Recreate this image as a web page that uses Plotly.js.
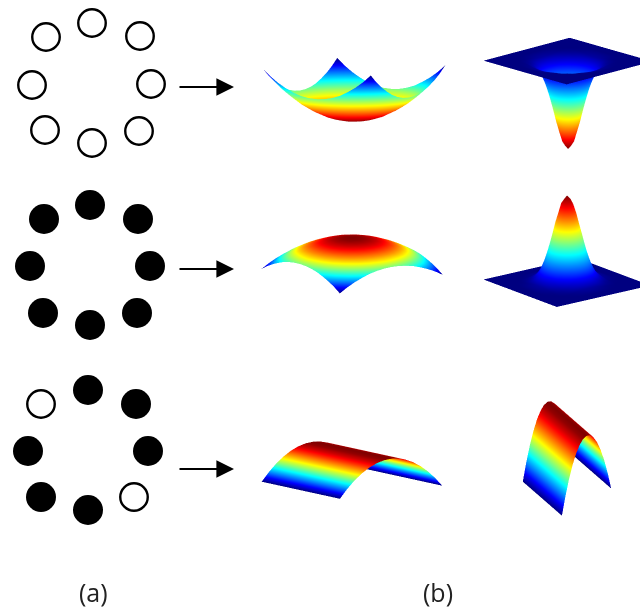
<!DOCTYPE html>
<html><head><meta charset="utf-8">
<script src="https://cdn.plot.ly/plotly-3.0.1.min.js"></script>
<style>html,body{margin:0;padding:0;background:#fff}#g{width:640px;height:609px}</style>
</head><body><div id="g"></div>
<script>
// ring node states
const ringX1=[92,140,151,139,92,45,32,46], ringY1=[23,36,84,131,143,130,85,37];
const ringX2=[90,138,150,137,90,43,30,44], ringY2=[205,219,266,313,325,313,266,219];
const ringXOpen3=[41,134], ringYOpen3=[404,497];
const ringXFill3=[88,136,148,88,41,28], ringYFill3=[390,404,451,510,497,451];
const arrowY=[87,269,469];
// surface values (one quadrant, the surfaces are symmetric)
const gridAxis=[0,0.143,0.286,0.429,0.571,0.714,0.857,1];
const bowlQuarter=[
[0,.02,.08,.18,.33,.51,.73,1],
[.02,.04,.10,.20,.35,.53,.76,1.02],
[.08,.10,.16,.27,.41,.59,.82,1.08],
[.18,.20,.27,.37,.51,.69,.92,1.18],
[.33,.35,.41,.51,.65,.84,1.06,1.33],
[.51,.53,.59,.69,.84,1.02,1.24,1.51],
[.73,.76,.82,.92,1.06,1.24,1.47,1.73],
[1,1.02,1.08,1.18,1.33,1.51,1.73,2]];
const bellAxis=[0,.07,.14,.21,.28,.35,.45,.6,.8,1];
const bellQuarter=[
[1,.955,.831,.659,.477,.314,.147,.033,.0024,.0001],
[.955,.912,.794,.629,.456,.300,.140,.032,.0023,.0001],
[.831,.794,.691,.548,.396,.261,.122,.027,.002,.0001],
[.659,.629,.548,.434,.314,.207,.097,.022,.0016,.0001],
[.477,.456,.396,.314,.228,.150,.070,.016,.0011,0],
[.314,.300,.261,.207,.150,.099,.046,.010,.0008,0],
[.147,.140,.122,.097,.070,.046,.022,.005,.0004,0],
[.033,.032,.027,.022,.016,.010,.005,.001,.0001,0],
[.0024,.0023,.002,.0016,.0011,.0008,.0004,.0001,0,0],
[.0001,.0001,.0001,.0001,0,0,0,0,0,0]];
const ridgeAxis=[-1,-.857,-.714,-.571,-.429,-.286,-.143,0,.143,.286,.429,.571,.714,.857,1];
const ridgeProfile=[0,.265,.49,.673,.816,.918,.98,1,.98,.918,.816,.673,.49,.265,0];
const labels=["(a)","(b)"];
const jetScale=[[0,'rgb(0,0,128)'],[.125,'rgb(0,0,255)'],[.375,'rgb(0,255,255)'],[.625,'rgb(255,255,0)'],[.875,'rgb(255,0,0)'],[1,'rgb(128,0,0)']];

const mirror=a=>a.slice(1).reverse().concat(a);
const mirror2=q=>mirror(q.map(mirror));
const signedAxis=g=>mirror(g).map((v,i)=>i<g.length-1?-v:v);
const neg=m=>m.map(r=>r.map(v=>-v));
const bowl=mirror2(bowlQuarter), bell=mirror2(bellQuarter);
const bowlX=signedAxis(gridAxis), bellX=signedAxis(bellAxis);

// panel: box cx,cy,size in px, azimuth, elevation, z aspect, horizontal aspect, horizontal shift in px
const panels=[
 {z:bowl,x:bowlX,y:bowlX,rev:true,cx:354,cy:87.5,size:200,az:34.6,el:5.5,za:.445,k:1.40,dx:0},
 {z:neg(bell),x:bellX,y:bellX,rev:true,cx:562,cy:105,size:156,az:46,el:16,za:.81,k:1.537,dx:6},
 {z:neg(bowl),x:bowlX,y:bowlX,rev:false,cx:352,cy:255,size:200,az:52.6,el:13.5,za:.29,k:1.30,dx:0},
 {z:bell,x:bellX,y:bellX,rev:false,cx:562,cy:239,size:156,az:52,el:17,za:.81,k:1.53,dx:5},
 {z:[ridgeProfile,ridgeProfile],x:ridgeAxis,y:[-1,1],rev:false,cx:352,cy:467,size:200,az:52.6,el:9.6,za:.28,k:1.29,dx:0},
 {z:[ridgeProfile,ridgeProfile],x:ridgeAxis,y:[-1,1],rev:false,cx:567,cy:452,size:140,az:51.5,el:43.8,za:1.55,k:.9,dx:0}
];
const W=640,H=609;
const traces=[], layout={width:W,height:H,margin:{l:0,r:0,t:0,b:0},paper_bgcolor:'#fff',plot_bgcolor:'#fff',showlegend:false,
 xaxis:{range:[0,W],visible:false,domain:[0,1],fixedrange:true},
 yaxis:{range:[H,0],visible:false,domain:[0,1],fixedrange:true},
 annotations:[],shapes:[]};
const open=(x,y)=>({type:'scatter',mode:'markers',x,y,hoverinfo:'skip',marker:{size:27.5,color:'#fff',line:{color:'#000',width:2.4}}});
const fill=(x,y)=>({type:'scatter',mode:'markers',x,y,hoverinfo:'skip',marker:{size:30,color:'#000',line:{width:0}}});
traces.push(open(ringX1,ringY1),fill(ringX2,ringY2),open(ringXOpen3,ringYOpen3),fill(ringXFill3,ringYFill3));
arrowY.forEach(y=>layout.annotations.push({x:234,y,ax:178,ay:y,xref:'x',yref:'y',axref:'x',ayref:'y',text:'',showarrow:true,arrowhead:2,arrowsize:1.6,arrowwidth:2.2,arrowcolor:'#000'}));
[[93,592,labels[0]],[438,592,labels[1]]].forEach(t=>layout.annotations.push({x:t[0],y:t[1],xref:'x',yref:'y',text:t[2],showarrow:false,font:{family:'Open Sans',size:25,color:'#222'}}));
const hid={visible:false,showgrid:false,zeroline:false,showline:false,showticklabels:false,showbackground:false,showspikes:false,title:{text:''}};
panels.forEach((p,i)=>{
 const name='scene'+(i?i+1:'');
 const a=p.az*Math.PI/180,e=p.el*Math.PI/180,r=2;
 const shift=p.dx/(0.49*p.size);
 const c={x:shift*Math.sin(a),y:-shift*Math.cos(a),z:0};
 layout[name]={domain:{x:[(p.cx-p.size/2)/W,(p.cx+p.size/2)/W],y:[1-(p.cy+p.size/2)/H,1-(p.cy-p.size/2)/H]},
  xaxis:{...hid,range:[-1,1]},yaxis:{...hid,range:[-1,1]},zaxis:{...hid},
  aspectmode:'manual',aspectratio:{x:p.k,y:p.k,z:p.za*p.k},bgcolor:'rgba(0,0,0,0)',
  camera:{projection:{type:'orthographic'},up:{x:0,y:0,z:1},center:c,
   eye:{x:c.x+r*Math.cos(a)*Math.cos(e),y:c.y+r*Math.sin(a)*Math.cos(e),z:c.z+r*Math.sin(e)}}};
 traces.push({type:'surface',scene:name,x:p.x,y:p.y,z:p.z,colorscale:jetScale,reversescale:p.rev,showscale:false,hoverinfo:'skip',
  lighting:{ambient:1,diffuse:0,specular:0,roughness:1,fresnel:0},contours:{x:{show:false},y:{show:false},z:{show:false}}});
});
Plotly.newPlot('g',traces,layout,{displayModeBar:false,staticPlot:false});
</script></body></html>
